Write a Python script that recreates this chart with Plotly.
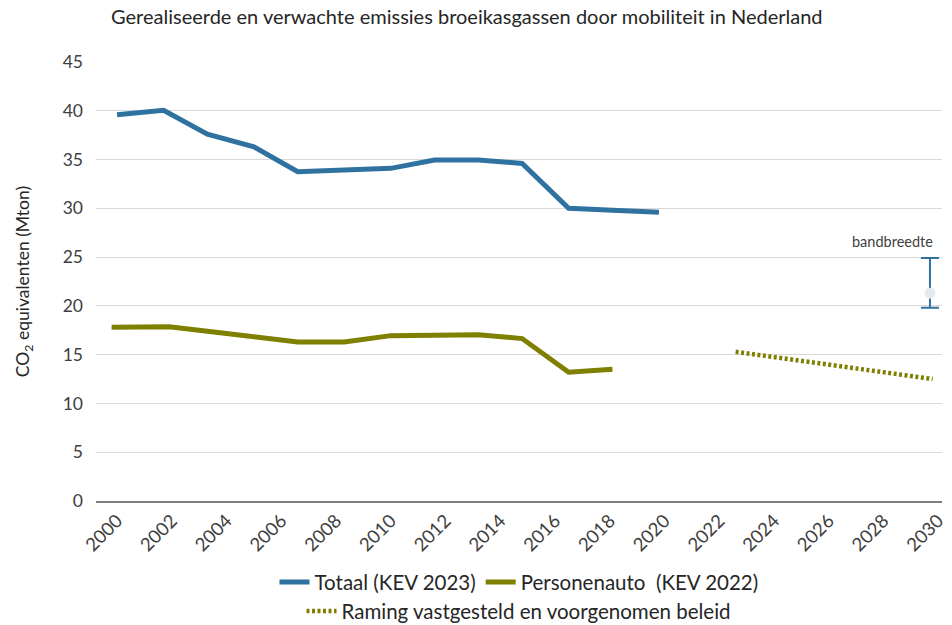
import plotly.graph_objects as go

# Data
totaal_years = [2000, 2001.7, 2003.3, 2005.0, 2006.6, 2008.3, 2010.0, 2011.6, 2013.2, 2014.8, 2016.5, 2018.1, 2019.8]
totaal_values = [39.6, 40.05, 37.6, 36.3, 33.75, 33.9, 34.1, 34.95, 34.95, 34.6, 30.0, 29.8, 29.6]

auto_years = [1999.8, 2001.9, 2003.3, 2005.0, 2006.6, 2008.3, 2010.0, 2011.6, 2013.2, 2014.8, 2016.5, 2018.1]
auto_values = [17.8, 17.85, 17.4, 16.9, 16.3, 16.3, 16.95, 17.0, 17.05, 16.65, 13.2, 13.5]

raming_years = [2022.6, 2029.8]
raming_values = [15.3, 12.5]

band_year = [2029.7]
band_mid = [21.3]
band_plus = [3.6]
band_minus = [1.5]

tick_years = list(range(2000, 2031, 2))
y_ticks = [0, 5, 10, 15, 20, 25, 30, 35, 40, 45]

BLUE = "#2f72a0"
OLIVE = "#7f7f00"
TXT = "#404040"
FONT = "Lato"

fig = go.Figure()

fig.add_trace(go.Scatter(
    x=totaal_years, y=totaal_values, mode="lines", name="Totaal (KEV 2023)",
    line=dict(color=BLUE, width=5), legend="legend"))
fig.add_trace(go.Scatter(
    x=auto_years, y=auto_values, mode="lines", name="Personenauto\u00a0 (KEV 2022)",
    line=dict(color=OLIVE, width=5), legend="legend"))
fig.add_trace(go.Scatter(
    x=raming_years, y=raming_values, mode="lines", name="Raming vastgesteld en voorgenomen beleid",
    line=dict(color=OLIVE, width=4.5, dash="3px,2.5px"), legend="legend2"))
fig.add_trace(go.Scatter(
    x=band_year, y=band_mid, mode="markers", showlegend=False,
    marker=dict(color="#e4eaee", size=11),
    error_y=dict(type="data", symmetric=False, array=band_plus, arrayminus=band_minus,
                 color=BLUE, thickness=2, width=9)))

fig.add_annotation(x=2029.88, y=26.6, xref="x", yref="y", text="bandbreedte",
                   showarrow=False, xanchor="right", yanchor="middle",
                   font=dict(family=FONT, size=14.5, color=TXT))

# page body has an 8px margin, so the figure is sized to fit the 952x625 window
fig.update_layout(
    width=944, height=617,
    margin=dict(l=88, r=10, t=54, b=124, autoexpand=False),
    paper_bgcolor="white", plot_bgcolor="white",
    font=dict(family=FONT, color=TXT),
    title=dict(text="Gerealiseerde en verwachte emissies broeikasgassen door mobiliteit in Nederland",
               x=0.486, xanchor="center", y=0.985, yanchor="middle",
               font=dict(family=FONT, size=20, color="#262626")),
    xaxis=dict(range=[1999.23, 2030.14], tickmode="array", tickvals=tick_years,
               ticktext=[str(y) for y in tick_years], tickangle=-45, automargin=False,
               showgrid=False, zeroline=False, showline=True, linecolor="#7f7f7f",
               linewidth=1.5, ticks="", tickfont=dict(family=FONT, size=18.5, color=TXT)),
    yaxis=dict(range=[0, 45], tickmode="array", tickvals=y_ticks, automargin=False,
               showgrid=True, gridcolor="#d9d9d9", gridwidth=1, zeroline=False,
               showline=False, ticks="", ticklabelstandoff=12,
               tickfont=dict(family=FONT, size=17.5, color=TXT),
               title=dict(text="CO<sub>2</sub> equivalenten (Mton)",
                          font=dict(family=FONT, size=17.5, color="#262626"), standoff=28)),
    legend=dict(orientation="h", x=0.5, xanchor="center", yref="container", y=0.102, yanchor="top",
                font=dict(family=FONT, size=20.5, color="#262626"), bgcolor="rgba(0,0,0,0)"),
    legend2=dict(orientation="h", x=0.5, xanchor="center", yref="container", y=0.055, yanchor="top",
                 font=dict(family=FONT, size=20.5, color="#262626"), bgcolor="rgba(0,0,0,0)"),
)

fig.write_html("out.html")
